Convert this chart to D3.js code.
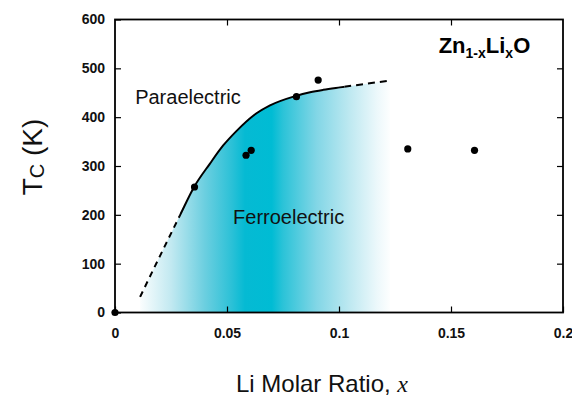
<!DOCTYPE html>
<html>
<head>
<meta charset="utf-8">
<title>Zn1-xLixO phase diagram</title>
<style>
body { margin: 0; background: #fff; }
svg { font-family: "Liberation Sans", Arial, Helvetica, sans-serif; }
.tick text { font-weight: bold; font-size: 14px; fill: #111; }
.tick line { stroke: #000; stroke-width: 1.2px; }
.frame { fill: none; stroke: #000; stroke-width: 1.8px; }
.curve { fill: none; stroke: #000; stroke-width: 2px; }
.dot { fill: #000; }
</style>
</head>
<body>
<script src="https://cdn.jsdelivr.net/npm/d3@7"></script>
<script>
// measured points (Li ratio x, Tc in K)
var dotX = [0, 0.0355, 0.0585, 0.0608, 0.081, 0.0907, 0.1307, 0.1605],
    dotT = [0, 257, 322, 332, 442, 476, 335, 332];

// boundary curve
var curveX = [0.0112, 0.0201, 0.029, 0.0353, 0.0424, 0.0483, 0.0543, 0.0617, 0.0692, 0.0804, 0.0871, 0.093, 0.1004, 0.1116, 0.1228],
    curveT = [32, 116, 199, 257, 305, 342, 372, 403, 424, 443, 451, 456, 461, 468, 475];
var solidFrom = 0.029, solidTo = 0.1025;

var xTicks = [0, 0.05, 0.1, 0.15, 0.2],
    yTicks = [0, 100, 200, 300, 400, 500, 600];

// shading across x, white -> cyan -> white
var shadeX = [0.010, 0.025, 0.040, 0.052, 0.058, 0.070, 0.075, 0.090, 0.105, 0.117, 0.1235],
    shadeC = ["#ffffff", "#c2e9f1", "#6ccfe0", "#2cc1d7", "#05bad3", "#00bcd4", "#2bc3d8", "#82d6e6", "#bfe9f1", "#ecf8fb", "#ffffff"];

var W = 572, H = 399,
    m = [19.5, 9, 86.5, 115], // top right bottom left
    w = W - m[1] - m[3],
    h = H - m[0] - m[2];

var xs = d3.scaleLinear().domain([0, 0.2]).range([0, w]),
    ys = d3.scaleLinear().domain([0, 600]).range([h, 0]);

var svgRoot = d3.select("body").append("svg")
    .attr("width", W)
    .attr("height", H);
var svg = svgRoot.append("g")
    .attr("transform", "translate(" + m[3] + "," + m[0] + ")");

var defs = svgRoot.append("defs");
var grad = defs.append("linearGradient")
    .attr("id", "shade")
    .attr("gradientUnits", "userSpaceOnUse")
    .attr("x1", xs(shadeX[0])).attr("x2", xs(shadeX[shadeX.length - 1]))
    .attr("y1", 0).attr("y2", 0);
var span = shadeX[shadeX.length - 1] - shadeX[0];
shadeX.forEach(function(v, i) {
  grad.append("stop")
    .attr("offset", (v - shadeX[0]) / span)
    .attr("stop-color", shadeC[i]);
});

function clip(id, x0, x1) {
  defs.append("clipPath").attr("id", id)
    .append("rect")
    .attr("x", xs(x0)).attr("y", -5)
    .attr("width", xs(x1) - xs(x0)).attr("height", h + 10);
}
clip("cLow", 0, solidFrom);
clip("cMid", solidFrom, solidTo);
clip("cHigh", solidTo, 0.2);

var pts = curveX.map(function(x, i) { return [x, curveT[i]]; });

var area = d3.area()
    .x(function(d) { return xs(d[0]); })
    .y0(h)
    .y1(function(d) { return ys(d[1]); })
    .curve(d3.curveMonotoneX);

var line = d3.line()
    .x(function(d) { return xs(d[0]); })
    .y(function(d) { return ys(d[1]); })
    .curve(d3.curveMonotoneX);

svg.append("path")
    .datum(pts)
    .attr("d", area)
    .attr("fill", "url(#shade)");

svg.append("path").datum(pts).attr("class", "curve")
    .attr("d", line).attr("clip-path", "url(#cLow)")
    .attr("stroke-dasharray", "6,5");
svg.append("path").datum(pts).attr("class", "curve")
    .attr("d", line).attr("clip-path", "url(#cMid)");
svg.append("path").datum(pts).attr("class", "curve")
    .attr("d", line).attr("clip-path", "url(#cHigh)")
    .attr("stroke-dasharray", "7,5");

// axes: inward ticks
svg.append("g")
    .attr("transform", "translate(0," + h + ")")
    .call(d3.axisBottom(xs).tickValues(xTicks).tickSize(-6).tickPadding(16)
      .tickFormat(function(d) { return String(d); }))
    .call(function(g) { g.select(".domain").remove(); });

svg.append("g")
    .call(d3.axisLeft(ys).tickValues(yTicks).tickSize(-6).tickPadding(10))
    .call(function(g) { g.select(".domain").remove(); });

svg.append("g")
    .call(d3.axisTop(xs).tickValues(xTicks.slice(1, -1)).tickSize(-6).tickFormat(""))
    .call(function(g) { g.select(".domain").remove(); });

svg.append("g")
    .attr("transform", "translate(" + w + ",0)")
    .call(d3.axisRight(ys).tickValues(yTicks.slice(1, -1)).tickSize(-6).tickFormat(""))
    .call(function(g) { g.select(".domain").remove(); });

svg.append("rect").attr("class", "frame")
    .attr("x", 0).attr("y", 0).attr("width", w).attr("height", h);

svg.selectAll(".dot")
  .data(dotX)
  .enter().append("circle")
    .attr("class", "dot")
    .attr("cx", function(d) { return xs(d); })
    .attr("cy", function(d, i) { return ys(dotT[i]); })
    .attr("r", 3.6);

// region labels
svg.append("text")
    .attr("x", xs(0.009)).attr("y", ys(427))
    .style("font-size", "20px").style("fill", "#111")
    .text("Paraelectric");
svg.append("text")
    .attr("x", xs(0.0527)).attr("y", ys(182))
    .style("font-size", "20px").style("fill", "#111")
    .text("Ferroelectric");

// compound name
var title = svg.append("text")
    .attr("x", xs(0.1445)).attr("y", ys(532))
    .style("font-size", "22px").style("font-weight", "bold");
title.append("tspan").text("Zn");
title.append("tspan").attr("dy", 5).style("font-size", "14px").text("1-x");
title.append("tspan").attr("dy", -5).text("Li");
title.append("tspan").attr("dy", 5).style("font-size", "14px").text("x");
title.append("tspan").attr("dy", -5).text("O");

// axis titles
var xt = svgRoot.append("text")
    .attr("x", 322).attr("y", 392)
    .attr("text-anchor", "middle")
    .style("font-size", "24px").style("fill", "#111");
xt.append("tspan").text("Li Molar Ratio, ");
xt.append("tspan")
    .style("font-family", "'Liberation Serif', 'DejaVu Serif', serif")
    .style("font-style", "italic").text("x");

var yt = svgRoot.append("text")
    .attr("transform", "translate(42,157) rotate(-90)")
    .attr("text-anchor", "middle")
    .style("font-size", "28px").style("fill", "#111");
yt.append("tspan").text("T");
yt.append("tspan").attr("dy", 2).style("font-size", "20px").text("C");
yt.append("tspan").attr("dy", -2).text(" (K)");
</script>
</body>
</html>
